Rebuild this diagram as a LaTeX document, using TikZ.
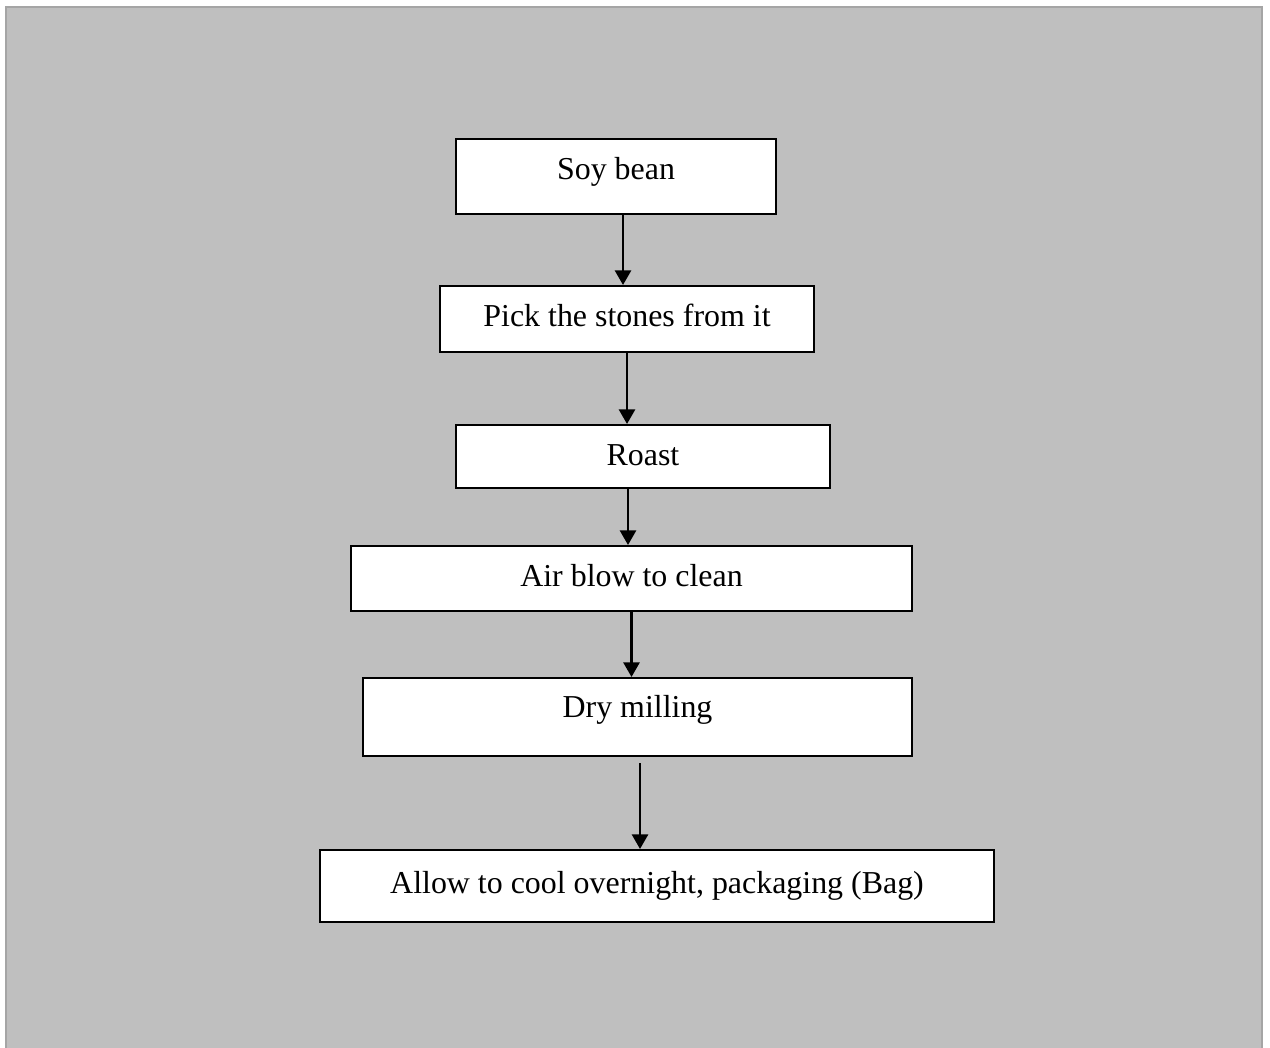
\documentclass[tikz,border=0pt]{standalone}
\usepackage{fontspec}
\setmainfont{Liberation Serif}
\usepackage{xcolor}
\usetikzlibrary{arrows.meta}
\definecolor{bggray}{HTML}{BFBFBF}
\definecolor{framegray}{HTML}{A5A5A5}
\newcommand{\pxu}{0.376pt}

\begin{document}
\begin{tikzpicture}[x=\pxu, y=-\pxu,
    stepbox/.style={draw=black, line width=0.8pt, fill=white, inner sep=0pt,
      anchor=north, font=\fontsize{12}{14}\selectfont, text height=15.3pt},
    flow/.style={line width=1.05pt, -{Triangle[length=5.5pt, width=6pt]}}]
        % Fondo
        \useasboundingbox (0,0) rectangle (1270,1047);
        \fill[white] (0,0) rectangle (1270,1047);
        \draw[draw=framegray, fill=bggray, line width=0.8pt] (6,7) rectangle (1262,1060);

        % Pasos
        \node[stepbox, minimum width=120.3pt, text depth=12.8pt] (soy) at (616,138) {Soy bean};
        \node[stepbox, minimum width=140.6pt, text depth=9.4pt] (pick) at (627,285) {Pick the stones from it};
        \node[stepbox, minimum width=140.6pt, text depth=8.3pt] (roast) at (643,424) {Roast};
        \node[stepbox, minimum width=210.9pt, text depth=9.0pt] (air) at (631.5,545) {Air blow to clean};
        \node[stepbox, minimum width=206.4pt, text depth=14.3pt, text height=15.0pt] (milling) at (637.5,677) {Dry milling};
        \node[stepbox, minimum width=253.4pt, text depth=10.5pt, text height=16.5pt] (pack) at (657,849) {Allow to cool overnight, packaging (Bag)};

        % Flechas
        \draw[flow] ([xshift=7*\pxu]soy.south) -- ([xshift=7*\pxu]soy.south |- pick.north);
        \draw[flow] (pick.south) -- (pick.south |- roast.north);
        \draw[flow] ([xshift=-15*\pxu]roast.south) -- ([xshift=-15*\pxu]roast.south |- air.north);
        \draw[flow] (air.south) -- (air.south |- milling.north);
        \draw[flow] ([xshift=2.5*\pxu, yshift=-6*\pxu]milling.south) -- ([xshift=2.5*\pxu]milling.south |- pack.north);
    \end{tikzpicture}
\end{document}
